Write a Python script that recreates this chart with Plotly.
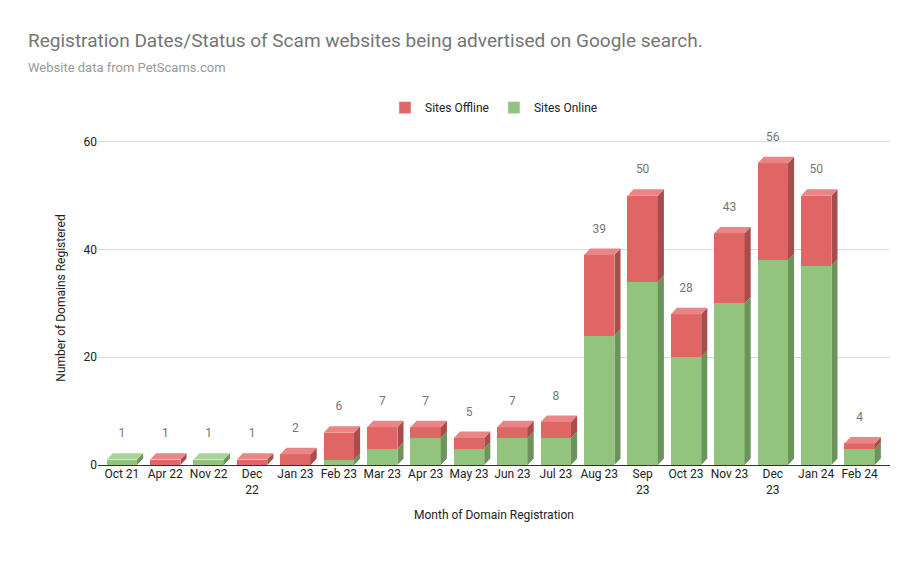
""" Registration dates / status of scam websites - stacked 3D-look bar chart """

import plotly.graph_objs as go

months = ["Oct 21", "Apr 22", "Nov 22", "Dec<br>22", "Jan 23", "Feb 23", "Mar 23", "Apr 23",
          "May 23", "Jun 23", "Jul 23", "Aug 23", "Sep<br>23", "Oct 23", "Nov 23", "Dec<br>23",
          "Jan 24", "Feb 24"]
sites_online = [1, 0, 1, 0, 0, 1, 3, 5, 3, 5, 5, 24, 34, 20, 30, 38, 37, 3]
sites_offline = [0, 1, 0, 1, 2, 5, 4, 2, 2, 2, 3, 15, 16, 8, 13, 18, 13, 1]
totals = [1, 1, 1, 1, 2, 6, 7, 7, 5, 7, 8, 39, 50, 28, 43, 56, 50, 4]

x = list(range(len(months)))
w = 0.7     # bar width
dx = 0.14   # depth offset in categories
dy = 1.2    # depth offset in y units

red, red_side, red_top = "#e06666", "#a94c4c", "#e98585"
green, green_side, green_top = "#93c47d", "#6a9459", "#a9d495"


def faces(bottoms, tops):
    """side faces of the bar segments, as one polygon list"""
    xs, ys = [], []
    for i, (b, t) in enumerate(zip(bottoms, tops)):
        if t <= b:
            continue
        r = x[i] + w / 2
        xs += [r, r + dx, r + dx, r, r, None]
        ys += [b, b + dy, t + dy, t, b, None]
    return xs, ys


def top_faces(tops, keep):
    xs, ys = [], []
    for i, t in enumerate(tops):
        if not keep[i]:
            continue
        l, r = x[i] - w / 2, x[i] + w / 2
        xs += [l, l + dx, r + dx, r, l, None]
        ys += [t, t + dy, t + dy, t, t, None]
    return xs, ys


fig = go.Figure()

fig.add_trace(go.Bar(x=x, y=sites_online, name="Sites Online", marker_color=green, width=w,
                     marker_line_width=0, showlegend=False))
fig.add_trace(go.Bar(x=x, y=sites_offline, name="Sites Offline", marker_color=red, width=w,
                     marker_line_width=0, showlegend=False))

zeros = [0] * len(x)
gx, gy = faces(zeros, sites_online)
rx, ry = faces(sites_online, totals)
fig.add_trace(go.Scatter(x=gx, y=gy, fill="toself", fillcolor=green_side, mode="lines",
                         line_width=0, hoverinfo="skip", showlegend=False))
fig.add_trace(go.Scatter(x=rx, y=ry, fill="toself", fillcolor=red_side, mode="lines",
                         line_width=0, hoverinfo="skip", showlegend=False))

tgx, tgy = top_faces(sites_online, [o == 0 for o in sites_offline])
trx, try_ = top_faces(totals, [o > 0 for o in sites_offline])
fig.add_trace(go.Scatter(x=tgx, y=tgy, fill="toself", fillcolor=green_top, mode="lines",
                         line_width=0, hoverinfo="skip", showlegend=False))
fig.add_trace(go.Scatter(x=trx, y=try_, fill="toself", fillcolor=red_top, mode="lines",
                         line_width=0, hoverinfo="skip", showlegend=False))

# total labels
fig.add_trace(go.Scatter(x=x, y=[t + dy + 3.5 for t in totals], mode="text",
                         text=[str(t) for t in totals], textfont=dict(size=12, color="#757575"),
                         hoverinfo="skip", showlegend=False))

# legend entries
fig.add_trace(go.Bar(x=[None], y=[None], name="Sites Offline", marker_color=red))
fig.add_trace(go.Bar(x=[None], y=[None], name="Sites Online", marker_color=green))

fig.update_layout({
    "barmode": "stack",
    "width": 910, "height": 563,
    "plot_bgcolor": "white", "paper_bgcolor": "white",
    "font": {"family": "Roboto, Arial, sans-serif", "size": 12, "color": "#222"},
    "title": {"text": "Registration Dates/Status of Scam websites being advertised on Google search."
                      "<br><span style='font-size:13px;color:#999'>Website data from PetScams.com</span>",
              "x": 0.022, "y": 0.93, "xanchor": "left", "yanchor": "top",
              "font": {"size": 19, "color": "#757575"}},
    "legend": {"orientation": "h", "x": 0.5, "xanchor": "center", "y": 1.07, "yanchor": "middle",
               "traceorder": "normal", "font": {"size": 12}},
    "margin": {"l": 90, "r": 28, "t": 123, "b": 106},
    "xaxis": {"tickmode": "array", "tickvals": x, "ticktext": months, "range": [-0.55, 17.7],
              "showgrid": False, "zeroline": False, "tickfont": {"size": 12},
              "title": {"text": "Month of Domain Registration", "font": {"size": 12}}},
    "yaxis": {"range": [0, 62], "tickvals": [0, 20, 40, 60], "gridcolor": "#d9d9d9",
              "zeroline": True, "zerolinecolor": "#333", "zerolinewidth": 1,
              "title": {"text": "Number of Domains Registered", "font": {"size": 12}}},
    "bargap": 0.3,
})

fig.write_html("out.html")
